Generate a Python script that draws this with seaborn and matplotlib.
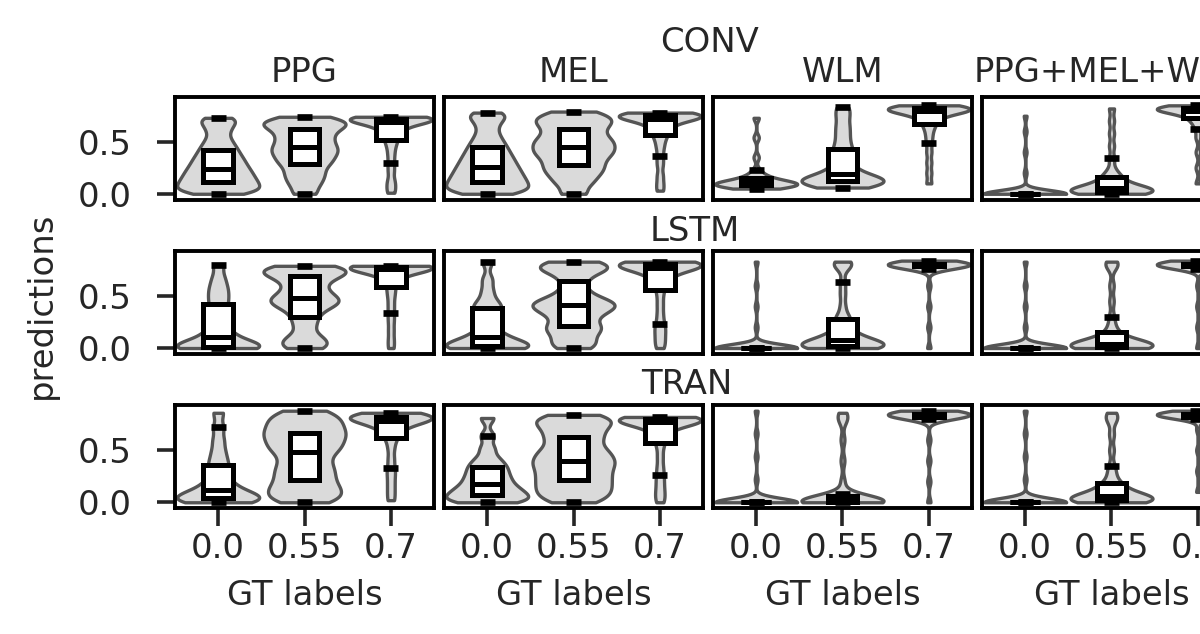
import numpy as np
import pandas as pd
import matplotlib
matplotlib.use("Agg")
import matplotlib.pyplot as plt
import seaborn as sns

gt_labels = ["0.0", "0.55", "0.7"]
features = ["PPG", "MEL", "WLM", "PPG+MEL+WLM"]
models = ["CONV", "LSTM", "TRAN"]

# predictions for each GT label (0.0, 0.55, 0.7)
conv_ppg = [
    [0.0, 0.012, 0.025, 0.037, 0.05, 0.064, 0.077, 0.091, 0.105, 0.119, 0.134, 0.149, 0.165, 0.18, 0.197, 0.214, 0.231,
     0.249, 0.268, 0.288, 0.309, 0.33, 0.353, 0.377, 0.404, 0.432, 0.463, 0.499, 0.542, 0.597, 0.64, 0.68, 0.71, 0.73],
    [0.0, 0.08, 0.14, 0.19, 0.24, 0.29, 0.32, 0.36, 0.39, 0.42, 0.45, 0.48, 0.52, 0.55, 0.59, 0.62, 0.65, 0.67, 0.69, 0.71, 0.74],
    [0.01, 0.07, 0.13, 0.22, 0.30, 0.38, 0.45, 0.50, 0.54, 0.57, 0.60, 0.62, 0.64, 0.66, 0.68, 0.69, 0.70, 0.70, 0.71, 0.71,
     0.715, 0.72, 0.72, 0.72, 0.725, 0.725, 0.73, 0.73, 0.735, 0.74, 0.74],
]
conv_mel = [
    [0.0, 0.013, 0.027, 0.04, 0.053, 0.068, 0.082, 0.097, 0.112, 0.127, 0.143, 0.159, 0.176, 0.192, 0.21, 0.229, 0.247,
     0.266, 0.286, 0.308, 0.33, 0.352, 0.377, 0.403, 0.431, 0.461, 0.494, 0.533, 0.579, 0.638, 0.69, 0.73, 0.76, 0.78],
    [0.0, 0.09, 0.15, 0.2, 0.24, 0.28, 0.32, 0.36, 0.39, 0.42, 0.45, 0.48, 0.51, 0.54, 0.58, 0.62, 0.66, 0.69, 0.72, 0.75, 0.79],
    [0.03, 0.10, 0.18, 0.28, 0.36, 0.44, 0.50, 0.55, 0.58, 0.61, 0.64, 0.66, 0.68, 0.70, 0.71, 0.72, 0.73, 0.73, 0.74, 0.74,
     0.745, 0.75, 0.75, 0.755, 0.76, 0.76, 0.765, 0.77, 0.77, 0.775, 0.78],
]
conv_wlm = [
    [0.05, 0.06, 0.065, 0.07, 0.075, 0.08, 0.08, 0.085, 0.09, 0.09, 0.095, 0.10, 0.10, 0.105, 0.11, 0.115, 0.12, 0.13,
     0.14, 0.15, 0.17, 0.19, 0.23, 0.35, 0.54, 0.73],
    [0.06, 0.08, 0.09, 0.10, 0.11, 0.125, 0.13, 0.14, 0.15, 0.17, 0.19, 0.22, 0.27, 0.33, 0.38, 0.43, 0.50, 0.58, 0.66, 0.75, 0.83],
    [0.10, 0.20, 0.30, 0.40, 0.49, 0.56, 0.62, 0.66, 0.69, 0.72, 0.74, 0.76, 0.77, 0.78, 0.79, 0.80, 0.80, 0.805, 0.81, 0.81,
     0.815, 0.82, 0.82, 0.82, 0.825, 0.83, 0.83, 0.835, 0.84, 0.84, 0.85],
]
conv_fus = [
    [0.0, 0.0, 0.0, 0.0, 0.0, 0.0, 0.0, 0.0, 0.0, 0.0, 0.0, 0.0, 0.0, 0.0, 0.0, 0.0, 0.0, 0.0, 0.0, 0.0, 0.0, 0.0, 0.0,
     0.0, 0.0, 0.0, 0.005, 0.01, 0.015, 0.02, 0.2, 0.4, 0.6, 0.75],
    [0.0, 0.0, 0.0, 0.01, 0.01, 0.01, 0.02, 0.02, 0.02, 0.03, 0.03, 0.04, 0.04, 0.05, 0.05, 0.06, 0.07, 0.08, 0.09, 0.10,
     0.11, 0.15, 0.17, 0.18, 0.24, 0.34, 0.46, 0.58, 0.70, 0.82],
    [0.10, 0.25, 0.40, 0.54, 0.62, 0.67, 0.70, 0.72, 0.74, 0.76, 0.77, 0.78, 0.79, 0.795, 0.80, 0.80, 0.805, 0.81, 0.81,
     0.815, 0.82, 0.82, 0.82, 0.825, 0.83, 0.83, 0.835, 0.84, 0.84, 0.845, 0.85],
]
lstm_ppg = [
    [0.0, 0.0, 0.0, 0.0, 0.005, 0.01, 0.02, 0.04, 0.06, 0.08, 0.11, 0.15, 0.2, 0.27, 0.35, 0.42, 0.48, 0.54, 0.6, 0.68, 0.80],
    [0.0, 0.03, 0.07, 0.12, 0.22, 0.30, 0.37, 0.41, 0.44, 0.46, 0.48, 0.52, 0.56, 0.61, 0.66, 0.69, 0.72, 0.74, 0.75, 0.77, 0.79],
    [0.0, 0.08, 0.17, 0.26, 0.34, 0.42, 0.50, 0.56, 0.62, 0.66, 0.69, 0.71, 0.73, 0.74, 0.75, 0.76, 0.76, 0.765, 0.77, 0.77,
     0.775, 0.78, 0.78, 0.78, 0.785, 0.785, 0.79, 0.79, 0.79, 0.79, 0.79],
]
lstm_mel = [
    [0.0, 0.0, 0.0, 0.005, 0.01, 0.02, 0.03, 0.05, 0.07, 0.09, 0.11, 0.15, 0.21, 0.28, 0.34, 0.38, 0.41, 0.46, 0.55, 0.66, 0.83],
    [0.0, 0.04, 0.09, 0.15, 0.19, 0.21, 0.27, 0.32, 0.36, 0.38, 0.41, 0.43, 0.45, 0.48, 0.55, 0.64, 0.72, 0.76, 0.78, 0.80, 0.83],
    [0.0, 0.06, 0.12, 0.18, 0.23, 0.32, 0.42, 0.52, 0.60, 0.64, 0.68, 0.71, 0.73, 0.75, 0.76, 0.77, 0.78, 0.785, 0.79, 0.795,
     0.80, 0.80, 0.805, 0.81, 0.81, 0.815, 0.82, 0.82, 0.825, 0.83, 0.83],
]
lstm_wlm = [
    [0.0, 0.0, 0.0, 0.0, 0.0, 0.0, 0.0, 0.0, 0.0, 0.0, 0.0, 0.0, 0.0, 0.0, 0.0, 0.0, 0.0, 0.0, 0.0, 0.0, 0.0, 0.0, 0.0,
     0.0, 0.0, 0.0, 0.005, 0.01, 0.015, 0.02, 0.2, 0.4, 0.6, 0.83],
    [0.0, 0.0, 0.0, 0.005, 0.01, 0.01, 0.015, 0.02, 0.02, 0.025, 0.03, 0.035, 0.04, 0.045, 0.05, 0.06, 0.07, 0.08,
     0.09, 0.10, 0.12, 0.14, 0.16, 0.19, 0.26, 0.28, 0.30, 0.40, 0.52, 0.63, 0.78, 0.80, 0.82, 0.83],
    [0.0, 0.2, 0.4, 0.6, 0.76, 0.77, 0.78, 0.78, 0.785, 0.79, 0.79, 0.79, 0.795, 0.795, 0.80, 0.80, 0.80, 0.80, 0.805,
     0.805, 0.81, 0.81, 0.81, 0.81, 0.815, 0.815, 0.82, 0.82, 0.82, 0.825, 0.83, 0.84],
]
lstm_fus = [
    [0.0, 0.0, 0.0, 0.0, 0.0, 0.0, 0.0, 0.0, 0.0, 0.0, 0.0, 0.0, 0.0, 0.0, 0.0, 0.0, 0.0, 0.0, 0.0, 0.0, 0.0, 0.0, 0.0,
     0.0, 0.0, 0.0, 0.005, 0.01, 0.015, 0.02, 0.2, 0.4, 0.6, 0.83],
    [0.0, 0.0, 0.0, 0.0, 0.005, 0.005, 0.01, 0.01, 0.015, 0.02, 0.02, 0.025, 0.03, 0.035, 0.04, 0.045, 0.05, 0.06,
     0.07, 0.08, 0.09, 0.12, 0.16, 0.21, 0.30, 0.45, 0.60, 0.78, 0.81, 0.83],
    [0.0, 0.2, 0.4, 0.6, 0.76, 0.77, 0.78, 0.78, 0.785, 0.79, 0.79, 0.79, 0.795, 0.795, 0.80, 0.80, 0.80, 0.80, 0.805,
     0.805, 0.81, 0.81, 0.81, 0.81, 0.815, 0.815, 0.82, 0.82, 0.82, 0.825, 0.83, 0.84],
]
tran_ppg = [
    [0.0, 0.0, 0.01, 0.02, 0.03, 0.04, 0.05, 0.07, 0.08, 0.10, 0.12, 0.15, 0.19, 0.24, 0.3, 0.36, 0.42, 0.5, 0.6, 0.72, 0.86],
    [0.0, 0.04, 0.08, 0.12, 0.16, 0.21, 0.26, 0.31, 0.36, 0.42, 0.48, 0.52, 0.56, 0.6, 0.64, 0.67, 0.71, 0.75, 0.79, 0.83, 0.88],
    [0.02, 0.10, 0.18, 0.26, 0.33, 0.42, 0.52, 0.60, 0.64, 0.68, 0.71, 0.73, 0.75, 0.76, 0.77, 0.78, 0.79, 0.80, 0.805,
     0.81, 0.81, 0.815, 0.82, 0.82, 0.825, 0.83, 0.84, 0.845, 0.85, 0.855, 0.86],
]
tran_mel = [
    [0.0, 0.01, 0.02, 0.04, 0.05, 0.07, 0.09, 0.11, 0.13, 0.15, 0.18, 0.21, 0.24, 0.27, 0.31, 0.34, 0.38, 0.43, 0.52, 0.64, 0.81],
    [0.0, 0.05, 0.09, 0.13, 0.17, 0.21, 0.25, 0.29, 0.33, 0.37, 0.40, 0.44, 0.48, 0.52, 0.58, 0.63, 0.68, 0.73, 0.77, 0.80, 0.84],
    [0.0, 0.06, 0.12, 0.19, 0.26, 0.34, 0.44, 0.54, 0.60, 0.65, 0.69, 0.72, 0.74, 0.75, 0.76, 0.77, 0.775, 0.78, 0.785,
     0.79, 0.79, 0.795, 0.80, 0.80, 0.805, 0.81, 0.81, 0.81, 0.815, 0.82, 0.82],
]
tran_wlm = [
    [0.0, 0.0, 0.0, 0.0, 0.0, 0.0, 0.0, 0.0, 0.0, 0.0, 0.0, 0.0, 0.0, 0.0, 0.0, 0.0, 0.0, 0.0, 0.0, 0.0, 0.0, 0.0, 0.0,
     0.0, 0.0, 0.0, 0.005, 0.01, 0.015, 0.02, 0.22, 0.44, 0.66, 0.88],
    [0.0, 0.0, 0.0, 0.0, 0.0, 0.0, 0.0, 0.0, 0.0, 0.0, 0.005, 0.005, 0.01, 0.01, 0.015, 0.02, 0.02, 0.025, 0.03, 0.04,
     0.05, 0.06, 0.08, 0.2, 0.4, 0.6, 0.78, 0.82, 0.86],
    [0.0, 0.2, 0.4, 0.6, 0.80, 0.81, 0.82, 0.82, 0.825, 0.83, 0.83, 0.83, 0.835, 0.835, 0.84, 0.84, 0.84, 0.84, 0.845,
     0.845, 0.85, 0.85, 0.85, 0.85, 0.855, 0.855, 0.86, 0.86, 0.86, 0.865, 0.87, 0.88],
]
tran_fus = [
    [0.0, 0.0, 0.0, 0.0, 0.0, 0.0, 0.0, 0.0, 0.0, 0.0, 0.0, 0.0, 0.0, 0.0, 0.0, 0.0, 0.0, 0.0, 0.0, 0.0, 0.0, 0.0, 0.0,
     0.0, 0.0, 0.0, 0.005, 0.01, 0.015, 0.02, 0.22, 0.44, 0.66, 0.88],
    [0.0, 0.0, 0.0, 0.01, 0.01, 0.01, 0.02, 0.02, 0.02, 0.03, 0.03, 0.04, 0.04, 0.05, 0.05, 0.06, 0.07, 0.08, 0.09, 0.10,
     0.11, 0.15, 0.16, 0.17, 0.22, 0.28, 0.35, 0.50, 0.65, 0.78, 0.82, 0.86],
    [0.1, 0.3, 0.5, 0.7, 0.80, 0.81, 0.82, 0.82, 0.825, 0.83, 0.83, 0.83, 0.835, 0.835, 0.84, 0.84, 0.84, 0.84, 0.845,
     0.845, 0.85, 0.85, 0.85, 0.85, 0.855, 0.855, 0.86, 0.86, 0.86, 0.865, 0.87, 0.88],
]

panels = {
    "CONV": [conv_ppg, conv_mel, conv_wlm, conv_fus],
    "LSTM": [lstm_ppg, lstm_mel, lstm_wlm, lstm_fus],
    "TRAN": [tran_ppg, tran_mel, tran_wlm, tran_fus],
}

rows = []
for m in models:
    for f, per_label in zip(features, panels[m]):
        for g, vals in zip(gt_labels, per_label):
            for v in vals:
                rows.append((m, f, g, v))
df = pd.DataFrame(rows, columns=["model", "feature", "gt", "pred"])

sns.set_theme(style="ticks", rc={"axes.edgecolor": "black", "axes.linewidth": 1.3})
plt.rcParams["font.family"] = ["DejaVu Sans"]
plt.rcParams["font.size"] = 12.2
txt = "#262626"

W, H = 1200, 634
fig = plt.figure(figsize=(6, 3.17), dpi=200)
gs = fig.add_gridspec(3, 4, left=175 / W, right=1241 / W, top=1 - 97 / H,
                      bottom=1 - 508 / H, wspace=10 / 259, hspace=52 / 103)

for i, m in enumerate(models):
    for j, f in enumerate(features):
        ax = fig.add_subplot(gs[i, j])
        sub = df[(df.model == m) & (df.feature == f)]
        sns.violinplot(data=sub, x="gt", y="pred", order=gt_labels, color="#dadada",
                       linecolor="#555555", linewidth=1.2, inner=None, cut=0,
                       density_norm="width", width=0.95, bw_adjust=0.4,
                       saturation=1, ax=ax)
        sns.boxplot(data=sub, x="gt", y="pred", order=gt_labels, width=0.34,
                    color="white", linecolor="black", linewidth=1.8, saturation=1,
                    showfliers=False, whiskerprops={"linewidth": 0},
                    capprops={"linewidth": 2.4, "solid_capstyle": "butt"}, ax=ax)
        ax.set_ylim(-0.055, 0.93)
        ax.set_xlim(-0.5, 2.5)
        ax.set_ylabel("")
        ax.set_xlabel("")
        for s in ax.spines.values():
            s.set_visible(True)
            s.set_color("black")
            s.set_linewidth(1.4)
        ax.tick_params(length=6.5, width=1.3, labelsize=12.2, colors=txt)
        if j == 0:
            ax.set_yticks([0.0, 0.5], ["0.0", "0.5"])
            ax.tick_params(axis="y", pad=9)
        else:
            ax.tick_params(axis="y", left=False, labelleft=False)
        if i == 2:
            ax.set_xlabel("GT labels", fontsize=12.2, color=txt, labelpad=5)
            ax.tick_params(axis="x", pad=2)
        else:
            ax.tick_params(axis="x", bottom=False, labelbottom=False)

col_x = [304.5, 573.5, 842.5, 1111.5]
for f, x in zip(features, col_x):
    fig.text(x / W, 1 - 72 / H, f, ha="center", va="center", fontsize=12.2, color=txt)
for m, (x, y) in zip(models, [(709, 42), (695, 232), (687, 385)]):
    fig.text(x / W, 1 - y / H, m, ha="center", va="center", fontsize=12.2, color=txt)
fig.text(41 / W, 1 - 305 / H, "predictions", rotation=90, ha="center", va="center",
         fontsize=12.2, color=txt)

fig.savefig("out.png", dpi=200)
